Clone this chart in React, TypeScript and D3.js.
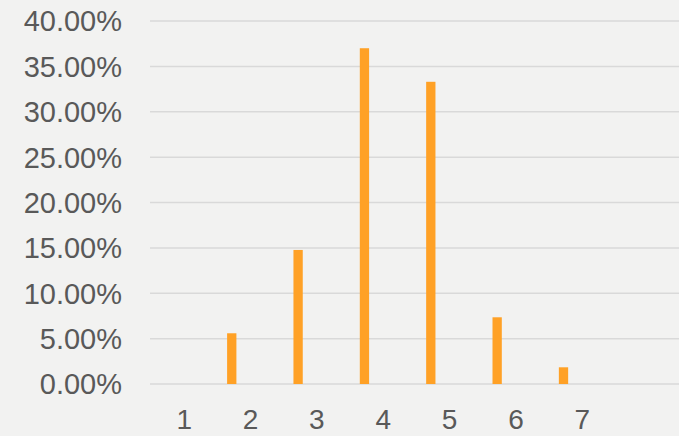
import React from "react";
import * as d3 from "d3";

const categories = ["1", "2", "3", "4", "5", "6", "7"];
const values = [0, 0.0559, 0.1477, 0.37, 0.333, 0.0735, 0.0184];
const yTicks = [0, 0.05, 0.1, 0.15, 0.2, 0.25, 0.3, 0.35, 0.4];

const W = 679;
const H = 436;

export default function App() {
  const y = d3.scaleLinear().domain([0, 0.4]).range([384, 21]);
  const x = d3.scaleBand<string>().domain(categories).range([151, 151 + 7 * 66.35]);
  const bw = x.bandwidth();
  const barW = 9.3;
  const barOff = bw * 0.147;
  const fmt = d3.format(".2%");
  const font = "'Liberation Sans', Arial, sans-serif";

  return (
    <svg
      width={W}
      height={H}
      style={{ position: "fixed", left: 0, top: 0, display: "block" }}
    >
      <rect x={0} y={0} width={W} height={H} fill="#f2f2f1" />
      {yTicks.map((t) => (
        <g key={t}>
          <line x1={150} x2={W} y1={y(t)} y2={y(t)} stroke="#d9d9d9" strokeWidth={1.5} />
          <text
            x={122}
            y={y(t)}
            dy="0.36em"
            textAnchor="end"
            fontFamily={font}
            fontSize={29}
            fill="#595959"
          >
            {fmt(t)}
          </text>
        </g>
      ))}
      {categories.map((c, i) => (
        <rect
          key={c}
          x={(x(c) as number) + barOff}
          y={y(values[i])}
          width={barW}
          height={y(0) - y(values[i])}
          fill="#ffa126"
        />
      ))}
      {categories.map((c) => (
        <text
          key={"l" + c}
          x={(x(c) as number) + bw / 2}
          y={429}
          textAnchor="middle"
          fontFamily={font}
          fontSize={28}
          fill="#595959"
        >
          {c}
        </text>
      ))}
    </svg>
  );
}
